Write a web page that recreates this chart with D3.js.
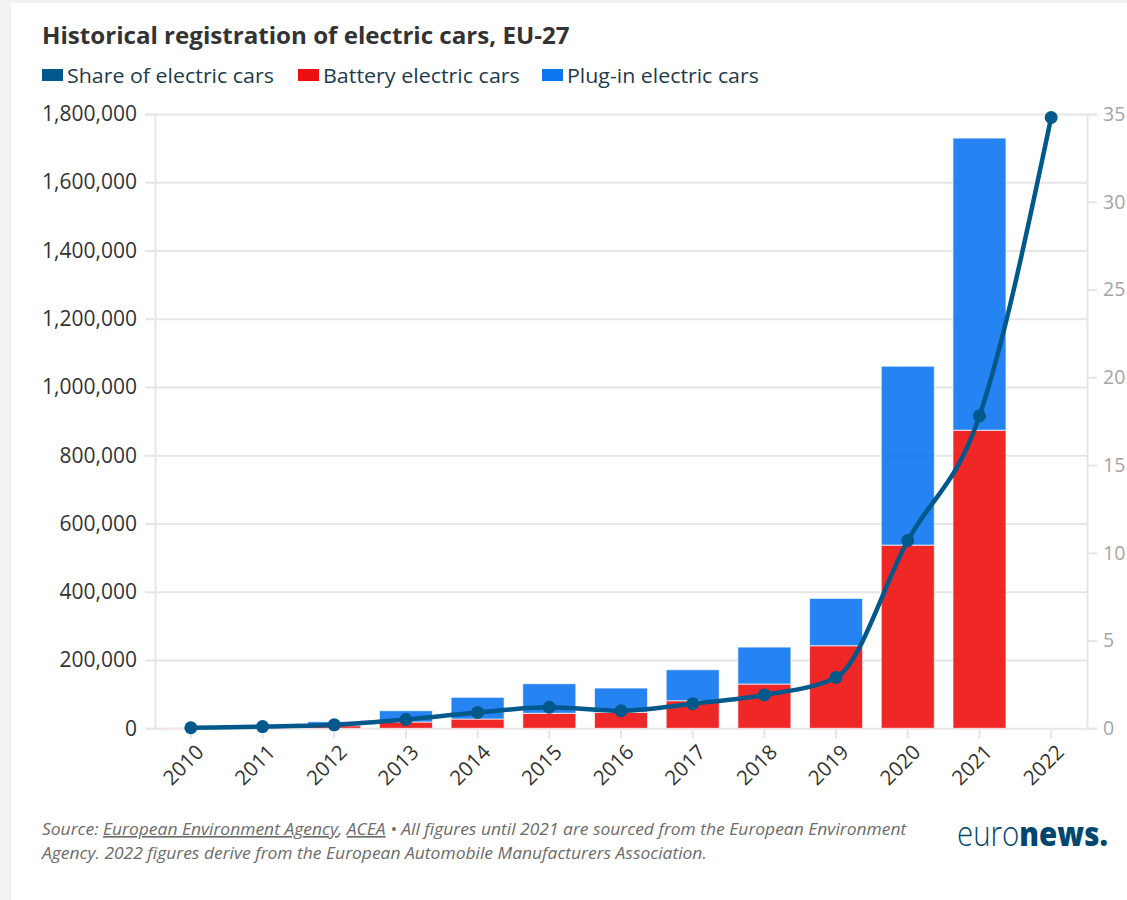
<!DOCTYPE html>
<html>
<head>
<meta charset="utf-8">
<script src="https://cdn.jsdelivr.net/npm/d3@7"></script>
<style>
  html, body { margin: 0; padding: 0; background: #f2f2f2; }
  svg { display: block; }
  text { font-family: "Open Sans", sans-serif; }
</style>
</head>
<body>
<svg id="chart" width="1127" height="900"></svg>
<script>
// ---- Data ----
const years = ["2010","2011","2012","2013","2014","2015","2016","2017","2018","2019","2020","2021","2022"];
const batteryCars = [1500, 4500, 7600, 18500, 27200, 44000, 47000, 80800, 129700, 241900, 536800, 873500, null];
const pluginCars  = [300, 1500, 11700, 33000, 63600, 86600, 71000, 90800, 108300, 138800, 524200, 856000, null];
const sharePct    = [0.03, 0.1, 0.2, 0.5, 0.9, 1.2, 1.0, 1.4, 1.9, 2.9, 10.7, 17.8, 34.8];
const leftTicks   = [0, 200000, 400000, 600000, 800000, 1000000, 1200000, 1400000, 1600000, 1800000];
const rightTicks  = [0, 5, 10, 15, 20, 25, 30, 35];
const seriesNames = ["Share of electric cars", "Battery electric cars", "Plug-in electric cars"];
const titleText = "Historical registration of electric cars, EU-27";

// ---- Style ----
const colShare = "#00588b", colBEV = "#ed1010", colPHEV = "#0d77f0";
const W = 1127, H = 900;
const plot = { left: 155, right: 1087, top: 114, bottom: 728.3 };

const svg = d3.select("#chart");
svg.append("rect").attr("width", W).attr("height", H).attr("fill", "#f2f2f2");
svg.append("rect").attr("x", 11).attr("y", 3).attr("width", W).attr("height", H).attr("fill", "#fff");

function fitText(sel, x, y, target) {
  const w = sel.node().getComputedTextLength();
  sel.attr("transform", `translate(${x},${y}) scale(${target / w},1)`);
}

// Title
const t = svg.append("text").text(titleText)
  .attr("font-size", 24).attr("font-weight", 700).attr("fill", "#333");
fitText(t, 42, 44, 528);

// Legend
const legendItems = [
  { name: seriesNames[0], color: colShare, x: 42, w: 207 },
  { name: seriesNames[1], color: colBEV, x: 298, w: 197 },
  { name: seriesNames[2], color: colPHEV, x: 542, w: 192 }
];
const lg = svg.append("g");
legendItems.forEach(d => {
  lg.append("rect").attr("x", d.x).attr("y", 69).attr("width", 21).attr("height", 12).attr("fill", d.color);
  const tx = lg.append("text").attr("font-size", 20.5).attr("fill", "#1d3a4c").text(d.name);
  fitText(tx, d.x + 25, 83, d.w);
});

// Scales
const x = d3.scaleBand().domain(years).range([plot.left, plot.right]).paddingInner(0.26).paddingOuter(0.13);
const yL = d3.scaleLinear().domain([0, 1800000]).range([plot.bottom, plot.top]);
const yR = d3.scaleLinear().domain([0, 35]).range([plot.bottom, plot.top]);

// Gridlines (left axis)
const gridCol = "#e6e6e6";
const leftAxis = d3.axisLeft(yL).tickValues(leftTicks).tickSize(10).tickFormat(d3.format(","));
const gL = svg.append("g").attr("transform", `translate(${plot.left},0)`).call(leftAxis);
gL.select(".domain").attr("stroke", gridCol).attr("stroke-width", 2);
gL.selectAll(".tick line").attr("stroke", gridCol).attr("stroke-width", 2);
gL.selectAll(".tick text").attr("font-size", 21).attr("fill", "#333").attr("font-family", "Open Sans").attr("x", -18);
gL.selectAll(".tick").append("line").attr("x1", 0).attr("x2", plot.right - plot.left)
  .attr("stroke", gridCol).attr("stroke-width", 2);

// Right axis
const rightAxis = d3.axisRight(yR).tickValues(rightTicks).tickSize(10);
const gR = svg.append("g").attr("transform", `translate(${plot.right},0)`).call(rightAxis);
gR.select(".domain").attr("stroke", gridCol).attr("stroke-width", 2);
gR.selectAll(".tick line").attr("stroke", gridCol).attr("stroke-width", 2);
gR.selectAll(".tick text").attr("font-size", 19.5).attr("fill", "#a6a6a6").attr("font-family", "Open Sans").attr("x", 16);

// Bottom axis
const bottomAxis = d3.axisBottom(x).tickSize(10);
const gB = svg.append("g").attr("transform", `translate(0,${plot.bottom})`).call(bottomAxis);
gB.select(".domain").remove();
gB.selectAll(".tick line").attr("stroke", gridCol).attr("stroke-width", 2);
gB.selectAll(".tick text").attr("font-size", 20.5).attr("fill", "#333").attr("font-family", "Open Sans")
  .attr("text-anchor", "end").attr("dy", "0.35em")
  .attr("transform", "translate(9,20) rotate(-45)").attr("y", 0).attr("x", 0);

// Bars
const barData = years.map((yr, i) => ({ yr, bev: batteryCars[i], phev: pluginCars[i] })).filter(d => d.bev != null);
const bars = svg.append("g");
bars.selectAll(".bev").data(barData).join("rect")
  .attr("x", d => x(d.yr)).attr("width", x.bandwidth())
  .attr("y", d => yL(d.bev)).attr("height", d => yL(0) - yL(d.bev))
  .attr("fill", colBEV).attr("fill-opacity", 0.9).attr("stroke", "#fff").attr("stroke-width", 1).attr("stroke-opacity", 0.7);
bars.selectAll(".phev").data(barData).join("rect")
  .attr("x", d => x(d.yr)).attr("width", x.bandwidth())
  .attr("y", d => yL(d.bev + d.phev)).attr("height", d => yL(d.bev) - yL(d.bev + d.phev))
  .attr("fill", colPHEV).attr("fill-opacity", 0.9).attr("stroke", "#fff").attr("stroke-width", 1).attr("stroke-opacity", 0.7);

// Line
const pts = years.map((yr, i) => ({ yr, v: sharePct[i] }));
const cx = d => x(d.yr) + x.bandwidth() / 2;
const line = d3.line().x(cx).y(d => yR(d.v)).curve(d3.curveMonotoneX);
svg.append("path").datum(pts).attr("d", line).attr("fill", "none")
  .attr("stroke", colShare).attr("stroke-width", 4.5).attr("stroke-linejoin", "round");
svg.append("g").selectAll("circle").data(pts).join("circle")
  .attr("cx", cx).attr("cy", d => yR(d.v)).attr("r", 6.5).attr("fill", colShare);

// Footer
const f1 = svg.append("text").attr("font-size", 16.5).attr("font-style", "italic").attr("fill", "#6b6b6b");
f1.append("tspan").text("Source: ");
f1.append("tspan").attr("text-decoration", "underline").text("European Environment Agency");
f1.append("tspan").text(", ");
f1.append("tspan").attr("text-decoration", "underline").text("ACEA");
f1.append("tspan").text(" \u2022 All figures until 2021 are sourced from the European Environment");
const w1 = f1.node().getComputedTextLength();
const sc = 865 / w1;
f1.attr("transform", `translate(42,835) scale(${sc},1)`);
const f2 = svg.append("text").attr("font-size", 16.5).attr("font-style", "italic").attr("fill", "#6b6b6b")
  .text("Agency. 2022 figures derive from the European Automobile Manufacturers Association.")
  .attr("transform", `translate(42,859) scale(${sc},1)`);

// Logo
const logo = svg.append("text").attr("font-family", "Lato, sans-serif").attr("font-size", 34).attr("fill", "#00466f");
logo.append("tspan").attr("font-weight", 300).text("euro");
logo.append("tspan").attr("font-weight", 900).text("news.");
fitText(logo, 957, 846, 151);
</script>
</body>
</html>
